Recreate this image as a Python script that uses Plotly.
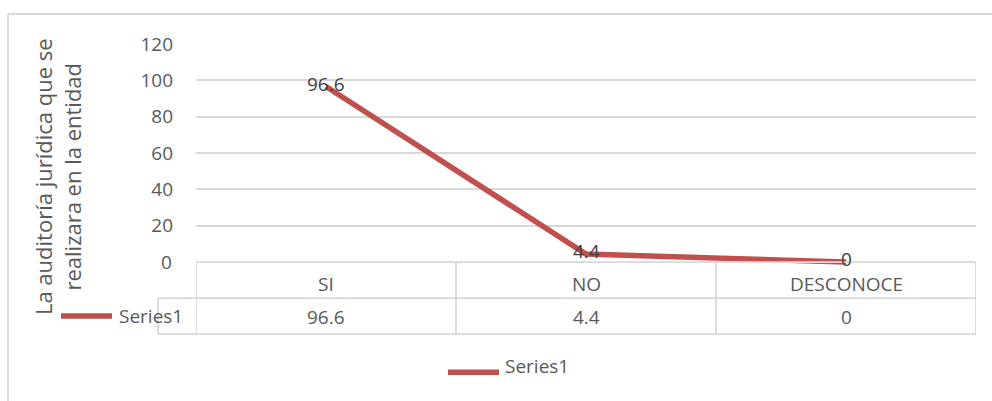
import plotly.graph_objects as go

categories = ["SI", "NO", "DESCONOCE"]
values = [96.6, 4.4, 0]
value_labels = ["96.6", "4.4", "0"]
series_name = "Series1"
y_ticks = [0, 20, 40, 60, 80, 100, 120]
y_title = "La auditoría jurídica que se<br>realizara en la entidad"

W, H = 992, 401
L, R = 196, 976          # plot area x pixel bounds
TOP, ZERO = 44, 262      # pixel y of 120 and 0
ppu = (ZERO - TOP) / 120.0
YMIN = -1.6
BOT = ZERO + (-YMIN) * ppu

FONT = "Open Sans"
TXT = "#595959"
GRID = "#d9d9d9"
RED = "#C0504D"
FS = 19


def px_x(x):
    return (x - L) / (R - L)


def px_y(y):
    return (BOT - y) / (BOT - TOP)


fig = go.Figure()
fig.add_trace(go.Scatter(
    x=list(range(len(categories))), y=values, mode="lines",
    line=dict(color=RED, width=5.5), showlegend=False, name=series_name,
))

shapes = []
line = dict(color=GRID, width=1.8)
# outer chart border
shapes.append(dict(type="line", xref="paper", yref="paper", x0=px_x(8), x1=px_x(1000),
                   y0=px_y(14), y1=px_y(14), line=line))
shapes.append(dict(type="line", xref="paper", yref="paper", x0=px_x(8), x1=px_x(8),
                   y0=px_y(14), y1=px_y(410), line=line))
# data table
rows = [ZERO, ZERO + 36, ZERO + 72]
shapes.append(dict(type="line", xref="paper", yref="paper", x0=px_x(L), x1=px_x(R),
                   y0=px_y(rows[0]), y1=px_y(rows[0]), line=line))
for r in rows[1:]:
    shapes.append(dict(type="line", xref="paper", yref="paper", x0=px_x(158), x1=px_x(R),
                       y0=px_y(r), y1=px_y(r), line=line))
for i in range(len(categories) + 1):
    shapes.append(dict(type="line", xref="x", yref="paper", x0=i - 0.5, x1=i - 0.5,
                       y0=px_y(rows[0]), y1=px_y(rows[2]), line=line))
shapes.append(dict(type="line", xref="paper", yref="paper", x0=px_x(158), x1=px_x(158),
                   y0=px_y(rows[1]), y1=px_y(rows[2]), line=line))
# legend keys
shapes.append(dict(type="line", xref="paper", yref="paper", x0=px_x(61), x1=px_x(112),
                   y0=px_y(316), y1=px_y(316), line=dict(color=RED, width=5.5)))
shapes.append(dict(type="line", xref="paper", yref="paper", x0=px_x(448), x1=px_x(499),
                   y0=px_y(372), y1=px_y(372), line=dict(color=RED, width=5.5)))

ann = []
f = dict(family=FONT, size=FS, color=TXT)
# data labels centred on the points
for i, (v, lab) in enumerate(zip(values, value_labels)):
    ann.append(dict(x=i, xref="x", y=v, yref="y", text=lab, showarrow=False,
                    font=dict(family=FONT, size=FS, color="#404040"), borderpad=0,
                    xanchor="center", yanchor="middle", yshift=3))
for i, (c, v) in enumerate(zip(categories, value_labels)):
    ann.append(dict(x=i, xref="x", y=px_y(284), yref="paper", text=c, showarrow=False,
                    font=f, xanchor="center", yanchor="middle", borderpad=0))
    ann.append(dict(x=i, xref="x", y=px_y(317), yref="paper", text=v, showarrow=False,
                    font=f, xanchor="center", yanchor="middle"))
ann.append(dict(x=px_x(117), xref="paper", y=px_y(316), yref="paper", text=series_name,
                showarrow=False, font=f, xanchor="left", yanchor="middle"))
ann.append(dict(x=px_x(503), xref="paper", y=px_y(366), yref="paper", text=series_name,
                showarrow=False, font=f, xanchor="left", yanchor="middle"))
ann.append(dict(x=px_x(57), xref="paper", y=px_y(177), yref="paper", text=y_title,
                textangle=-90, showarrow=False, font=dict(family=FONT, size=22, color=TXT),
                xanchor="center", yanchor="middle"))

fig.update_layout(
    width=W, height=H, margin=dict(l=L, r=W - R, t=TOP, b=H - BOT, pad=0),
    paper_bgcolor="white", plot_bgcolor="white", showlegend=False,
    shapes=shapes, annotations=ann,
    xaxis=dict(range=[-0.5, len(categories) - 0.5], showgrid=False, zeroline=False,
               showticklabels=False, showline=False, fixedrange=True),
    yaxis=dict(range=[YMIN, 120], tickvals=y_ticks[1:], showgrid=True, gridcolor=GRID,
               gridwidth=1.8, zeroline=False, showline=False, ticks="",
               tickfont=dict(family=FONT, size=FS, color=TXT), ticklabelstandoff=22),
)
# label for zero tick (drawn at table top, as in reference)
fig.add_annotation(x=px_x(174), xref="paper", y=0, yref="y", text=str(y_ticks[0]),
                   showarrow=False, font=dict(family=FONT, size=FS, color=TXT),
                   xanchor="right", yanchor="middle")

fig.write_html("out.html")
